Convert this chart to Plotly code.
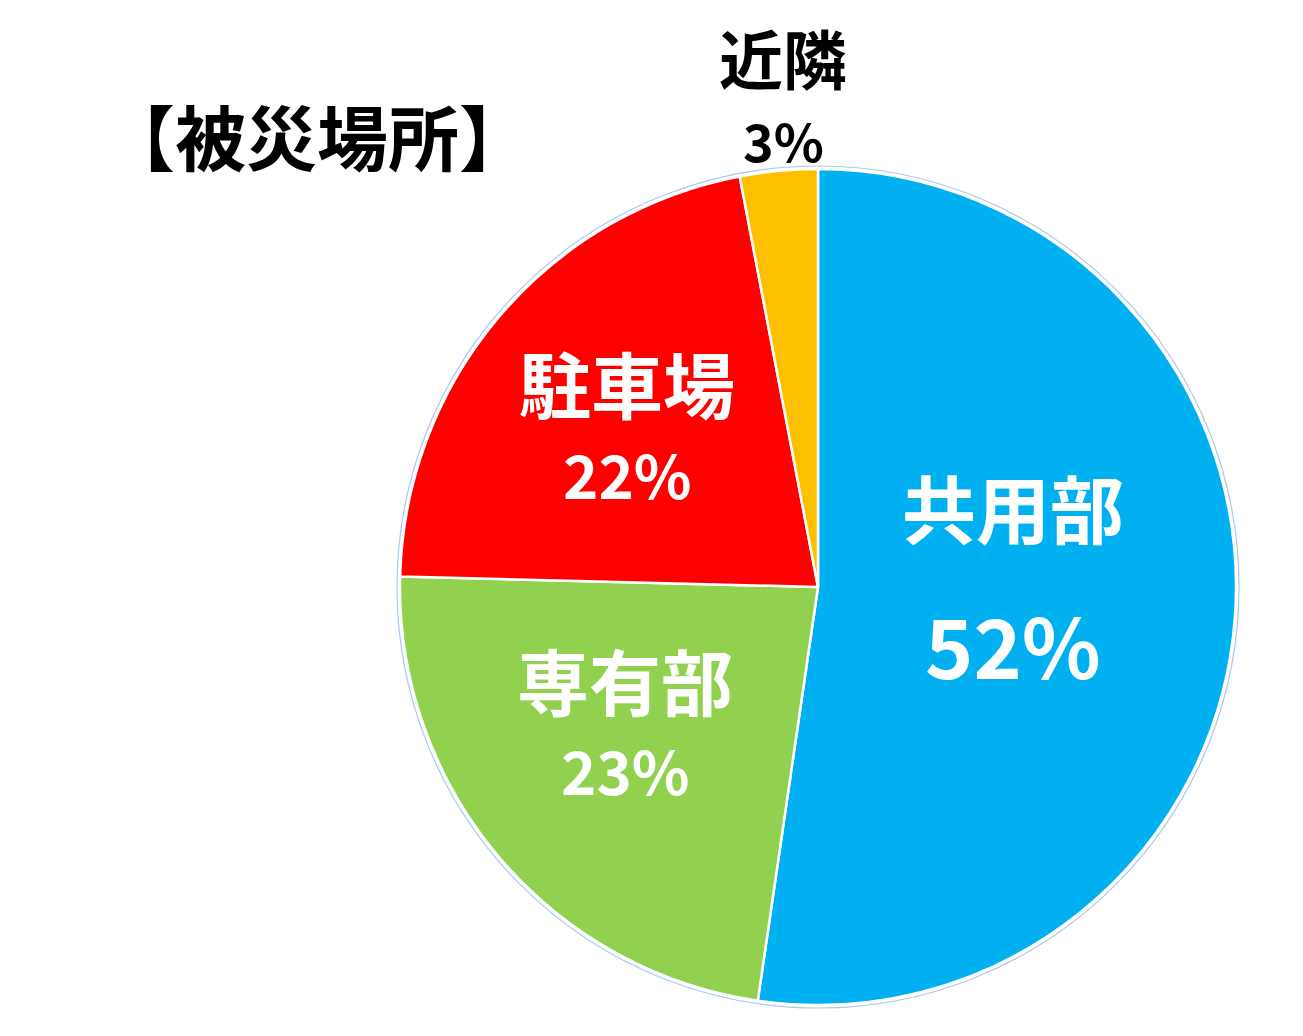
"""Pie chart of incident locations (被災場所)."""

import plotly.graph_objects as go

# the page body adds an 8px margin around the figure
PAGE_W, PAGE_H, OFF = 1303, 1036, 8
W, H = PAGE_W - 2 * OFF, PAGE_H - 2 * OFF

labels = ["共用部", "専有部", "駐車場", "近隣"]
values = [52.3, 23.1, 21.6, 3.0]
colors = ["#00B0F0", "#92D050", "#FF0000", "#FFC000"]

# label placement (screen pixel centres of name line / percent line) and font sizes
label_pos = [(1013, 505, 643), (625, 678, 768), (627, 381, 473), (783, 56, 139)]
name_size = [74, 72, 72, 64]
pct_size = [82, 60, 60, 52]
text_color = ["white", "white", "white", "black"]

FONT = "Noto Sans CJK JP"

cx, cy, r = 818, 587, 418


def px(x):
    return (x - OFF) / W


def py(y):
    return 1 - (y - OFF) / H


fig = go.Figure()
fig.add_trace(
    go.Pie(
        labels=labels,
        values=values,
        sort=False,
        direction="clockwise",
        rotation=0,
        marker=dict(colors=colors, line=dict(color="white", width=2.5)),
        textinfo="none",
        hoverinfo="label+percent",
        domain=dict(x=[px(cx - r), px(cx + r)], y=[py(cy + r), py(cy - r)]),
        showlegend=False,
    )
)

total = sum(values)
annotations = []
for i, name in enumerate(labels):
    x, y_name, y_pct = label_pos[i]
    pct = f"{round(values[i] / total * 100)}%"
    for txt, y, size in ((name, y_name, name_size[i]), (pct, y_pct, pct_size[i])):
        annotations.append(dict(
            x=px(x), y=py(y), xref="paper", yref="paper", text=txt, showarrow=False,
            xanchor="center", yanchor="middle",
            font=dict(family=FONT, size=size, color=text_color[i], weight=700),
        ))

annotations.append(dict(
    x=px(317), y=py(134), xref="paper", yref="paper", text="【被災場所】", showarrow=False,
    xanchor="center", yanchor="middle",
    font=dict(family=FONT, size=71, color="black", weight=700),
))

ro = r + 3
fig.update_layout(
    width=W,
    height=H,
    margin=dict(l=0, r=0, t=0, b=0),
    paper_bgcolor="white",
    plot_bgcolor="white",
    annotations=annotations,
    shapes=[dict(
        type="circle", xref="paper", yref="paper",
        x0=px(cx - ro), x1=px(cx + ro), y0=py(cy + ro), y1=py(cy - ro),
        line=dict(color="#A9C8F0", width=1.2), layer="below",
    )],
)

fig.write_html("out.html")
